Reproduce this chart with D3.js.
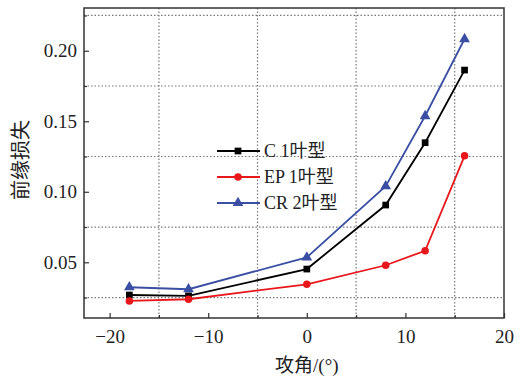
<html lang="zh">
    <head>
        <meta charset="utf-8">
        <script src="https://d3js.org/d3.v7.min.js"></script>
        <style>
            body { margin: 0; background: #fff; }
        </style>
    </head>
    <body>
        <svg id="chart" width="521" height="381"></svg>
        <script>
            // data
            const angles = [-18, -12, 0, 8, 12, 16];
            const c1 = [0.0268, 0.0262, 0.0452, 0.0906, 0.1348, 0.1863];
            const ep1 = [0.0226, 0.0238, 0.0344, 0.0479, 0.0582, 0.1255];
            const cr2 = [0.0323, 0.0309, 0.0535, 0.1040, 0.1537, 0.2083];
            const seriesNames = ["C 1叶型", "EP 1叶型", "CR 2叶型"];
            const seriesColors = ["#000000", "#e8171b", "#3a4fa3"];
            const seriesShapes = [d3.symbolSquare, d3.symbolCircle, d3.symbolTriangle];
            const xTicks = [-20, -10, 0, 10, 20];
            const xMinor = [-15, -5, 5, 15];
            const yTicks = [0.05, 0.10, 0.15, 0.20];
            const yMinor = [0.025, 0.075, 0.125, 0.175, 0.225];

            const FONT = '"Liberation Serif", "Noto Sans CJK SC", serif';
            const svg = d3.select("#chart");
            const margin = {left: 84, top: 8, right: 504, bottom: 318};

            const x = d3.scaleLinear().domain([-22.6, 20]).range([margin.left, margin.right]);
            const y = d3.scaleLinear().domain([0.0105, 0.2303]).range([margin.bottom, margin.top]);

            // dotted grid
            const grid = svg.append("g")
                .attr("stroke", "#777").attr("stroke-width", 1.2)
                .attr("stroke-dasharray", "1.5,2");
            grid.selectAll(".gx").data(xMinor).enter().append("line")
                .attr("x1", d => x(d)).attr("x2", d => x(d))
                .attr("y1", margin.top).attr("y2", margin.bottom);
            grid.selectAll(".gy").data(yMinor).enter().append("line")
                .attr("y1", d => y(d)).attr("y2", d => y(d))
                .attr("x1", margin.left).attr("x2", margin.right);

            // axes with inward ticks
            svg.append("g")
                .attr("transform", `translate(0,${margin.bottom})`)
                .call(d3.axisBottom(x).tickValues(xTicks).tickSizeInner(-5).tickSizeOuter(0)
                    .tickPadding(12).tickFormat(d => d < 0 ? "\u2212" + Math.abs(d) : d));
            svg.append("g")
                .attr("transform", `translate(${margin.left},0)`)
                .call(d3.axisLeft(y).tickValues(yTicks).tickSizeInner(-5).tickSizeOuter(0)
                    .tickPadding(7).tickFormat(d3.format(".2f")));
            svg.append("g").attr("transform", `translate(0,${margin.bottom})`)
                .call(d3.axisBottom(x).tickValues(xMinor).tickSizeInner(-3).tickSizeOuter(0).tickFormat(""));
            svg.append("g").attr("transform", `translate(${margin.left},0)`)
                .call(d3.axisLeft(y).tickValues(yMinor).tickSizeInner(-3).tickSizeOuter(0).tickFormat(""));
            svg.selectAll(".domain").remove();
            svg.selectAll(".tick line").attr("stroke", "#333").attr("stroke-width", 1.2);
            svg.selectAll(".tick text")
                .style("font-family", FONT).style("font-size", "19px").attr("fill", "#222");

            // frame
            svg.append("rect")
                .attr("x", margin.left).attr("y", margin.top)
                .attr("width", margin.right - margin.left).attr("height", margin.bottom - margin.top)
                .attr("fill", "none").attr("stroke", "#333").attr("stroke-width", 1.5);

            // series
            const allSeries = [c1, ep1, cr2];
            const line = d3.line().x((d, i) => x(angles[i])).y(d => y(d));
            allSeries.forEach((vals, k) => {
                svg.append("path").datum(vals)
                    .attr("d", line).attr("fill", "none")
                    .attr("stroke", seriesColors[k]).attr("stroke-width", 1.8);
                svg.selectAll(".m" + k).data(vals).enter().append("path")
                    .attr("d", d3.symbol().type(seriesShapes[k]).size(k === 2 ? 50 : 45))
                    .attr("transform", (d, i) => `translate(${x(angles[i])},${y(d)})`)
                    .attr("fill", seriesColors[k]);
            });

            // legend
            const legend = svg.append("g").attr("transform", "translate(217,151)");
            seriesNames.forEach((name, k) => {
                const row = legend.append("g").attr("transform", `translate(0,${k * 26})`);
                row.append("line").attr("x1", 0).attr("x2", 43)
                    .attr("stroke", seriesColors[k]).attr("stroke-width", 1.8);
                row.append("path")
                    .attr("d", d3.symbol().type(seriesShapes[k]).size(k === 2 ? 50 : 45))
                    .attr("transform", "translate(21,0)")
                    .attr("fill", seriesColors[k]);
                row.append("text").attr("x", 47).attr("y", 6)
                    .style("font-family", FONT).style("font-size", "18px")
                    .attr("fill", "#222").text(name);
            });

            // axis titles
            svg.append("text")
                .attr("x", x(0)).attr("y", 372)
                .attr("text-anchor", "middle")
                .style("font-family", FONT).style("font-size", "19px").attr("fill", "#222")
                .text("攻角/(°)");
            svg.append("text")
                .attr("transform", "translate(28,160) rotate(-90)")
                .attr("text-anchor", "middle")
                .style("font-family", FONT).style("font-size", "20px").attr("fill", "#222")
                .text("前缘损失");
        </script>
    </body>
</html>
